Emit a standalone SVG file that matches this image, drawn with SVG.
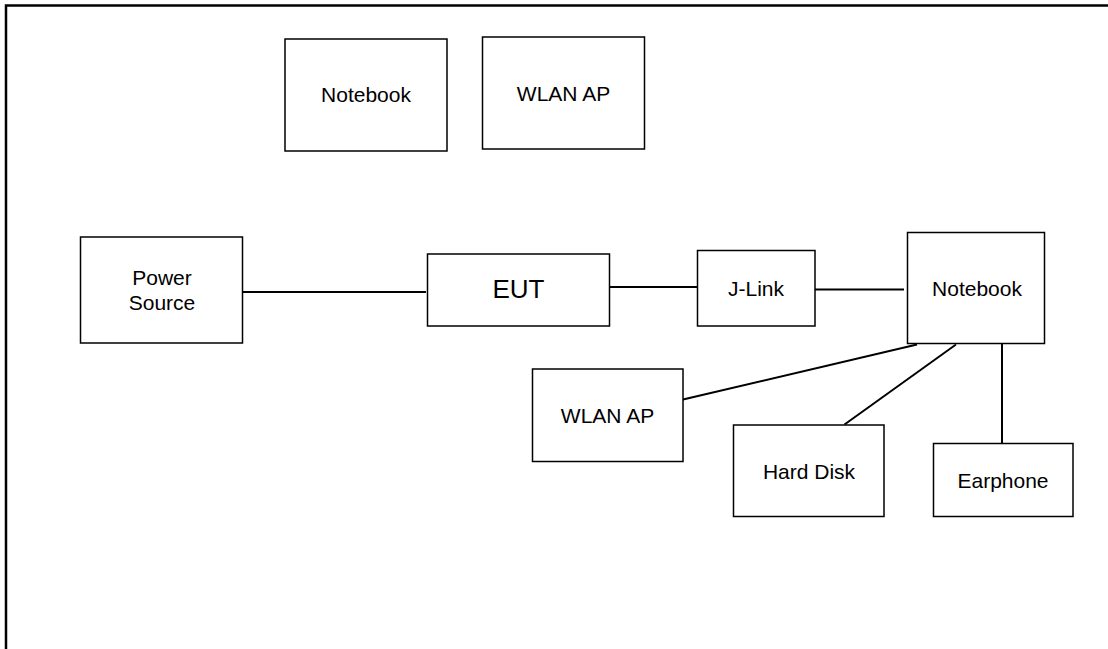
<svg xmlns="http://www.w3.org/2000/svg" width="1108" height="649" viewBox="0 0 1108 649">
<style>
.box{fill:#fff;stroke:#000;stroke-width:1.5}
.lbl{font-family:"Liberation Sans",Arial,sans-serif;font-size:21px;fill:#000;text-anchor:middle}
.big{font-size:26px}
.wire{stroke:#000;stroke-width:2;fill:none}
</style>
<rect width="1108" height="649" fill="#fff"/>
<g id="frame"><path d="M6 649 V5.5 H1108" fill="none" stroke="#000" stroke-width="2.5"/></g>
<g id="connectors">
<line class="wire" x1="243" y1="292" x2="426" y2="292"/>
<line class="wire" x1="610" y1="287" x2="697" y2="287"/>
<line class="wire" x1="815" y1="289.5" x2="904" y2="289.5"/>
<line class="wire" x1="917" y1="344.5" x2="683" y2="399.5"/>
<line class="wire" x1="956" y1="344.5" x2="844.5" y2="424.5"/>
<line class="wire" x1="1002" y1="344" x2="1002" y2="443.5"/>
</g>
<g id="notebook-top"><rect class="box" x="285" y="39" width="162" height="112"/><text class="lbl" x="366" y="102">Notebook</text></g>
<g id="wlan-top"><rect class="box" x="482.5" y="37" width="162" height="112"/><text class="lbl" x="563.5" y="101">WLAN AP</text></g>
<g id="power"><rect class="box" x="80.5" y="237" width="162" height="106"/><text class="lbl" x="162" y="285">Power</text><text class="lbl" x="162" y="310">Source</text></g>
<g id="eut"><rect class="box" x="427.5" y="254" width="182" height="72"/><text class="lbl big" x="518.5" y="298">EUT</text></g>
<g id="jlink"><rect class="box" x="697.5" y="250.5" width="117.5" height="75.5"/><text class="lbl" x="756" y="296">J-Link</text></g>
<g id="notebook"><rect class="box" x="907.5" y="232.5" width="137" height="111"/><text class="lbl" x="977" y="296">Notebook</text></g>
<g id="wlan"><rect class="box" x="532.5" y="369" width="150.5" height="92.5"/><text class="lbl" x="607.5" y="423">WLAN AP</text></g>
<g id="harddisk"><rect class="box" x="733.5" y="425" width="150.5" height="91.5"/><text class="lbl" x="809" y="479">Hard Disk</text></g>
<g id="earphone"><rect class="box" x="933.5" y="443.5" width="139.5" height="73"/><text class="lbl" x="1003" y="488">Earphone</text></g>
</svg>
